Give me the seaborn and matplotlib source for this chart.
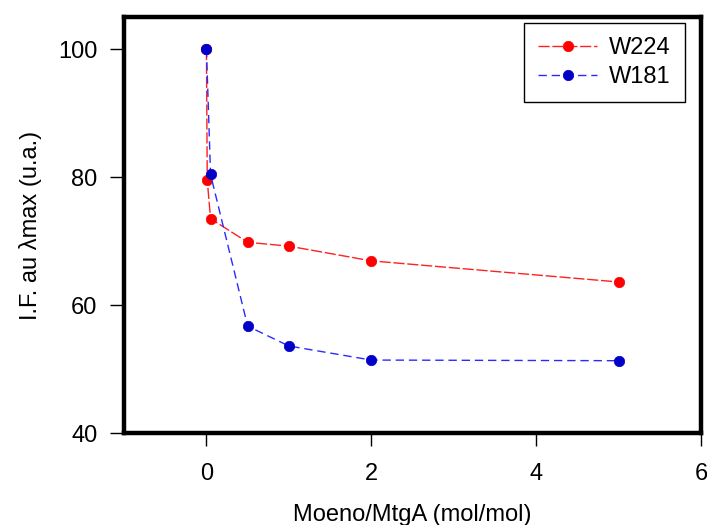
import matplotlib
matplotlib.use("Agg")
import matplotlib.pyplot as plt
import seaborn as sns

# Fluorescence intensity vs. Moeno/MtgA ratio for two tryptophan residues
w224_ratio = [0.0, 0.01, 0.05, 0.5, 1.0, 2.0, 5.0]
w224_if = [100.0, 79.5, 73.5, 69.8, 69.2, 66.9, 63.6]
w181_ratio = [0.0, 0.05, 0.5, 1.0, 2.0, 5.0]
w181_if = [100.0, 80.4, 56.7, 53.6, 51.4, 51.3]
series_names = ["W224", "W181"]
x_ticks = [0, 2, 4, 6]
y_ticks = [40, 60, 80, 100]

sns.set_style("white")
plt.rcParams["font.family"] = ["Liberation Sans", "DejaVu Sans"]
plt.rcParams["text.color"] = "black"
plt.rcParams["axes.labelcolor"] = "black"

fig = plt.figure(figsize=(7.07, 5.25), dpi=100)
ax = fig.add_axes([0.1754, 0.1752, 0.8161, 0.7924])

series = [
    (series_names[0], w224_ratio, w224_if, "#ff2020", "#ff0000", (0, (8, 2))),
    (series_names[1], w181_ratio, w181_if, "#2a2aff", "#0000c8", (0, (6, 3.5))),
]
for name, xs, ys, lc, mc, ls in series:
    sns.lineplot(
        x=xs, y=ys, color=lc, marker="o", markersize=7.5,
        markerfacecolor=mc, markeredgecolor=mc, markeredgewidth=0.5,
        linestyle=ls, linewidth=1.0, estimator=None, sort=False,
        label=name, ax=ax,
    )

ax.set_xlim(-1, 6)
ax.set_ylim(40, 105)
ax.set_xticks(x_ticks)
ax.set_yticks(y_ticks)
ax.tick_params(axis="both", which="major", bottom=True, left=True,
               direction="out", width=1.0, color="black",
               labelsize=17, labelcolor="black")
ax.tick_params(axis="x", length=9.5, pad=12)
ax.tick_params(axis="y", length=10, pad=9)
for sp in ax.spines.values():
    sp.set_visible(True)
    sp.set_linewidth(3.2)
    sp.set_color("black")

ax.set_xlabel("Moeno/MtgA (mol/mol)", fontsize=17, labelpad=14, color="black")
ax.set_ylabel("I.F. au λmax (u.a.)", fontsize=17, labelpad=12, color="black")

leg = ax.legend(loc="upper right", bbox_to_anchor=(0.9723, 0.985),
                fontsize=17, frameon=True, fancybox=False, framealpha=1,
                edgecolor="black", handlelength=2.5, handletextpad=0.5,
                labelspacing=0.28, borderpad=0.6, borderaxespad=0)
leg.get_frame().set_linewidth(1.0)
for t in leg.get_texts():
    t.set_color("black")

fig.savefig("out.png", dpi=100)
